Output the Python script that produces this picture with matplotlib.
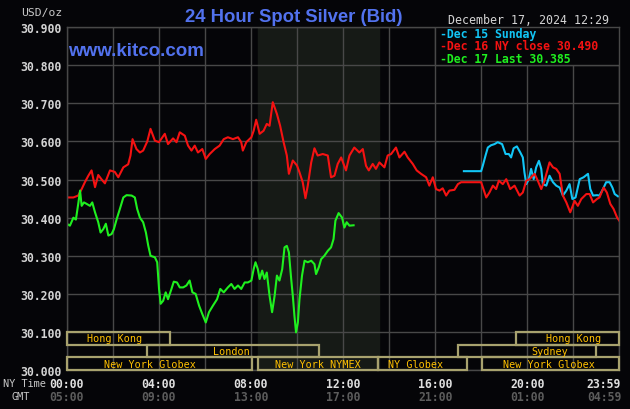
import matplotlib
matplotlib.use("Agg")
import matplotlib.pyplot as plt
from matplotlib.patches import Rectangle

dec17_hours = [0, 0.14, 0.29, 0.40, 0.51, 0.58, 0.65, 0.75, 0.87, 1.01, 1.11, 1.23, 1.37, 1.47,
               1.59, 1.70, 1.81, 1.95, 2.05, 2.17, 2.31, 2.46, 2.60, 2.82, 2.96, 3.06, 3.18, 3.32,
               3.44, 3.54, 3.64, 3.83, 3.93, 4.01, 4.08, 4.19, 4.30, 4.40, 4.55, 4.65, 4.79, 4.91,
               5.06, 5.20, 5.34, 5.46, 5.60, 5.75, 5.89, 6.04, 6.18, 6.35, 6.53, 6.67, 6.82, 7.00,
               7.15, 7.29, 7.44, 7.58, 7.73, 7.87, 8.02, 8.12, 8.20, 8.30, 8.38, 8.49, 8.59, 8.69,
               8.81, 8.92, 9.03, 9.13, 9.24, 9.36, 9.46, 9.56, 9.65, 9.75, 9.82, 9.89, 9.96, 10.04,
               10.11, 10.22, 10.33, 10.47, 10.62, 10.76, 10.83, 10.95, 11.05, 11.19, 11.34, 11.48,
               11.59, 11.67, 11.81, 11.96, 12.06, 12.16, 12.28, 12.46]
dec17_bid = [30.384, 30.379, 30.400, 30.395, 30.440, 30.471, 30.431, 30.440, 30.436, 30.431,
             30.440, 30.414, 30.388, 30.361, 30.370, 30.384, 30.353, 30.357, 30.370, 30.396,
             30.423, 30.453, 30.459, 30.458, 30.453, 30.423, 30.400, 30.388, 30.361, 30.327,
             30.300, 30.296, 30.283, 30.213, 30.174, 30.182, 30.204, 30.186, 30.213, 30.232,
             30.230, 30.217, 30.217, 30.222, 30.235, 30.204, 30.200, 30.169, 30.147, 30.125,
             30.152, 30.169, 30.186, 30.213, 30.204, 30.217, 30.226, 30.213, 30.222, 30.213,
             30.230, 30.230, 30.235, 30.265, 30.283, 30.265, 30.239, 30.261, 30.239, 30.256,
             30.195, 30.152, 30.195, 30.248, 30.235, 30.265, 30.322, 30.326, 30.309, 30.239,
             30.195, 30.143, 30.099, 30.125, 30.186, 30.248, 30.287, 30.283, 30.287, 30.278,
             30.252, 30.270, 30.291, 30.300, 30.313, 30.322, 30.344, 30.392, 30.412, 30.400,
             30.374, 30.388, 30.379, 30.380]

dec16_hours = [0, 0.29, 0.50, 0.65, 0.79, 0.94, 1.08, 1.23, 1.37, 1.52, 1.66, 1.88, 2.09, 2.24,
               2.46, 2.67, 2.77, 2.86, 3.03, 3.18, 3.32, 3.50, 3.64, 3.83, 4.01, 4.26, 4.40, 4.62,
               4.77, 4.91, 5.13, 5.27, 5.42, 5.56, 5.70, 5.89, 6.04, 6.21, 6.43, 6.64, 6.82, 7.00,
               7.22, 7.44, 7.58, 7.65, 7.80, 8.02, 8.12, 8.23, 8.38, 8.55, 8.69, 8.81, 8.95, 9.13,
               9.27, 9.42, 9.56, 9.65, 9.82, 10.00, 10.11, 10.25, 10.37, 10.47, 10.62, 10.76,
               10.90, 11.12, 11.34, 11.48, 11.63, 11.77, 11.92, 12.13, 12.28, 12.49, 12.71, 12.86,
               13.00, 13.12, 13.29, 13.43, 13.58, 13.80, 13.94, 14.09, 14.30, 14.45, 14.67, 14.81,
               15.03, 15.20, 15.39, 15.61, 15.75, 15.90, 16.04, 16.19, 16.33, 16.48, 16.62, 16.84,
               16.99, 17.13, 18.00, 18.10, 18.22, 18.36, 18.51, 18.65, 18.77, 18.94, 19.09, 19.26,
               19.45, 19.67, 19.81, 19.96, 20.10, 20.32, 20.46, 20.61, 20.75, 20.97, 21.12, 21.26,
               21.41, 21.55, 21.70, 21.87, 22.06, 22.20, 22.35, 22.57, 22.71, 22.86, 23.03, 23.14,
               23.32, 23.46, 23.61, 23.75, 23.90, 24.00]
dec16_bid = [30.453, 30.453, 30.458, 30.475, 30.493, 30.510, 30.524, 30.480, 30.512, 30.500,
             30.490, 30.524, 30.520, 30.506, 30.532, 30.540, 30.563, 30.606, 30.580, 30.571,
             30.576, 30.600, 30.633, 30.602, 30.598, 30.620, 30.593, 30.608, 30.598, 30.624,
             30.615, 30.589, 30.576, 30.589, 30.571, 30.580, 30.554, 30.567, 30.580, 30.589,
             30.606, 30.611, 30.606, 30.611, 30.598, 30.576, 30.598, 30.611, 30.628, 30.657,
             30.620, 30.628, 30.646, 30.641, 30.703, 30.672, 30.641, 30.598, 30.563, 30.515,
             30.550, 30.537, 30.519, 30.493, 30.451, 30.484, 30.545, 30.582, 30.563, 30.567,
             30.563, 30.506, 30.510, 30.541, 30.558, 30.524, 30.563, 30.584, 30.571, 30.580,
             30.536, 30.524, 30.541, 30.528, 30.545, 30.532, 30.563, 30.567, 30.584, 30.558,
             30.573, 30.558, 30.541, 30.524, 30.515, 30.506, 30.484, 30.506, 30.475, 30.471,
             30.477, 30.458, 30.471, 30.473, 30.488, 30.493, 30.493, 30.475, 30.453, 30.466,
             30.484, 30.475, 30.497, 30.488, 30.501, 30.475, 30.484, 30.458, 30.466, 30.497,
             30.501, 30.515, 30.497, 30.475, 30.497, 30.545, 30.532, 30.528, 30.515, 30.458,
             30.440, 30.414, 30.444, 30.431, 30.449, 30.462, 30.462, 30.440, 30.449, 30.453,
             30.479, 30.466, 30.436, 30.423, 30.401, 30.392]

dec15_hours = [17.25, 18.00, 18.07, 18.19, 18.29, 18.43, 18.58, 18.72, 18.91, 19.06, 19.20, 19.30,
               19.41, 19.55, 19.70, 19.81, 19.88, 19.96, 20.07, 20.17, 20.28, 20.39, 20.51, 20.61,
               20.68, 20.83, 20.97, 21.12, 21.26, 21.41, 21.55, 21.70, 21.84, 21.96, 22.10, 22.28,
               22.45, 22.64, 22.74, 22.86, 23.03, 23.14, 23.29, 23.43, 23.58, 23.70, 23.80, 23.94]
dec15_bid = [30.522, 30.522, 30.536, 30.563, 30.584, 30.590, 30.593, 30.598, 30.593, 30.567,
             30.567, 30.558, 30.582, 30.587, 30.571, 30.558, 30.519, 30.488, 30.501, 30.528,
             30.501, 30.532, 30.549, 30.528, 30.488, 30.484, 30.510, 30.493, 30.484, 30.479,
             30.458, 30.471, 30.488, 30.449, 30.453, 30.501, 30.506, 30.515, 30.475, 30.458,
             30.459, 30.458, 30.475, 30.493, 30.493, 30.479, 30.462, 30.456]

legend_labels = ["-Dec 15 Sunday", "-Dec 16 NY close 30.490", "-Dec 17 Last 30.385"]

price_ticks = [30.0, 30.1, 30.2, 30.3, 30.4, 30.5, 30.6, 30.7, 30.8, 30.9]
ny_labels = ["00:00", "04:00", "08:00", "12:00", "16:00", "20:00", "23:59"]
gmt_labels = ["05:00", "09:00", "13:00", "17:00", "21:00", "01:00", "04:59"]
label_hours = [0, 4, 8, 12, 16, 20, 24]

# trading sessions: name, row (0 = top), start hour, end hour
session_names = ["Hong Kong", "Hong Kong", "London", "Sydney",
                 "New York Globex", "New York NYMEX", "NY Globex", "New York Globex"]
session_rows = [0, 0, 1, 1, 2, 2, 2, 2]
session_start = [0, 19.5, 3.5, 17.0, 0, 8.3, 13.5, 18.05]
session_end = [4.47, 24, 10.97, 23.0, 8.05, 13.5, 17.38, 24]
session_text_x = [2.1, 22.0, 7.14, 20.97, 3.62, 10.89, 15.17, 20.95]

BG = "#050508"
GRID = "#484848"
MONO = "DejaVu Sans Mono"

fig = plt.figure(figsize=(6.3, 4.1), dpi=100, facecolor=BG)
ax = fig.add_axes([66.7 / 630, 1 - 371.1 / 410, (619.3 - 66.7) / 630, (371.1 - 28.1) / 410])
ax.set_facecolor(BG)
ax.set_xlim(0, 24)
ax.set_ylim(30.0, 30.9)

# NYMEX open outcry hours
ax.axvspan(8.3, 13.55, color="#161a16", zorder=0)

ax.set_xticks(range(0, 25, 2))
ax.set_xticklabels([])
ax.set_yticks(price_ticks)
ax.set_yticklabels([f"{p:.3f}" for p in price_ticks], fontfamily=MONO, fontweight="bold",
                   fontsize=8.3, color="#d4d4d4")
ax.tick_params(length=0, pad=4)
ax.set_axisbelow(True)
ax.grid(True, color=GRID, lw=1.0)
for s in ax.spines.values():
    s.set_color(GRID)
    s.set_linewidth(1.0)

ax.plot(dec15_hours, dec15_bid, color="#12c6f6", lw=1.5, zorder=2)
ax.plot(dec16_hours, dec16_bid, color="#f51212", lw=1.5, zorder=2)
ax.plot(dec17_hours, dec17_bid, color="#1ff01f", lw=1.5, zorder=2)

row_h = 0.1 / 3
for name, row, x0, x1, tx in zip(session_names, session_rows, session_start, session_end, session_text_x):
    y0 = 30.1 - (row + 1) * row_h
    ax.add_patch(Rectangle((x0, y0), x1 - x0, row_h, fill=False, edgecolor="#a8a26e",
                           lw=1.6, zorder=3, clip_on=False))
    ax.text(tx, y0 + row_h / 2, name, ha="center", va="center", fontfamily=MONO,
            fontsize=7.3, color="#ffc000", zorder=4)

# legend panel
ax.add_patch(Rectangle((16, 30.8), 8, 0.1, facecolor=BG, edgecolor=GRID, lw=1.0, zorder=5))
legend_colors = ["#12c6f6", "#f51212", "#1ff01f"]
legend_y = [30.884, 30.853, 30.818]
for lab, c, ly in zip(legend_labels, legend_colors, legend_y):
    ax.text(16.22, ly, lab, ha="left", va="center", fontfamily=MONO, fontweight="bold",
            fontsize=8.3, color=c, zorder=6)

# header texts
fig.text(293.9 / 630, 1 - 22.5 / 410, "24 Hour Spot Silver (Bid)", ha="center", va="baseline",
         fontfamily="Liberation Sans", fontweight="bold", fontsize=13.3, color="#5272ee")
fig.text(68 / 630, 1 - 56 / 410, "www.kitco.com", ha="left", va="baseline",
         fontfamily="Liberation Sans", fontweight="bold", fontsize=13.5, color="#5272ee")
fig.text(447.7 / 630, 1 - 23.5 / 410, "December 17, 2024 12:29", ha="left", va="baseline",
         fontfamily=MONO, fontsize=8.4, color="#d4d4d4")
fig.text(62 / 630, 1 - 13 / 410, "USD/oz", ha="right", va="center",
         fontfamily=MONO, fontsize=8.2, color="#c8c8c8")

# time axis labels
fig.text(3 / 630, 1 - 384 / 410, "NY Time", ha="left", va="center", fontfamily=MONO,
         fontsize=7.4, color="#c8c8c8")
fig.text(11.5 / 630, 1 - 397.5 / 410, "GMT", ha="left", va="center", fontfamily=MONO,
         fontsize=7.4, color="#c8c8c8")
for h, ny, gmt in zip(label_hours, ny_labels, gmt_labels):
    shift = -11 if h == 24 else 0
    ax.annotate(ny, (h, 0), xycoords=("data", "axes fraction"), xytext=(shift, -13.3 * 0.72),
                textcoords="offset points", ha="center", va="center", fontfamily=MONO,
                fontweight="bold", fontsize=8.3, color="#e0e0e0", annotation_clip=False)
    ax.annotate(gmt, (h, 0), xycoords=("data", "axes fraction"), xytext=(shift, -26.4 * 0.72),
                textcoords="offset points", ha="center", va="center", fontfamily=MONO,
                fontweight="bold", fontsize=8.3, color="#5c5c5c", annotation_clip=False)

fig.savefig("out.png", dpi=100, facecolor=BG)
